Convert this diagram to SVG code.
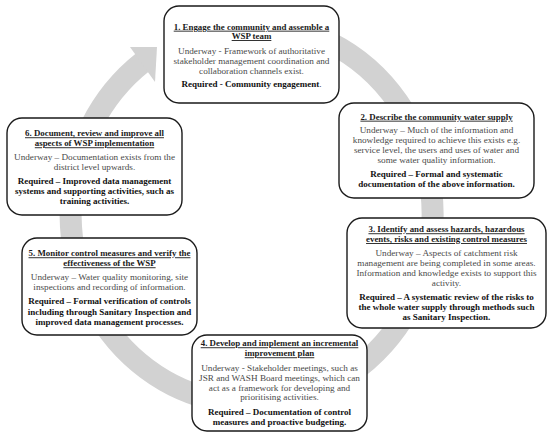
<svg xmlns="http://www.w3.org/2000/svg" width="550" height="436" viewBox="0 0 550 436">
<defs>
<style>
.box{fill:#fff;stroke:#1a1a1a;stroke-width:1.4}
text{font-family:"Liberation Serif","Times New Roman",serif;font-size:9.2px;text-anchor:middle}
.t{font-weight:bold;font-size:8.9px;fill:#1a1a1a;text-decoration:underline}
.u{fill:#4a4a4a}
.r{font-weight:bold;font-size:9px;fill:#111}
.ring{fill:none;stroke:#d2d2d2;stroke-width:22}
.head{fill:#d2d2d2}
</style>
</defs>
<rect width="550" height="436" fill="#fff"/>
<g id="connectors">
<path class="ring" d="M 252 24 A 181 190 0 1 1 143 62"/>
<polygon class="head" points="130,47 157,47 155,82"/>
</g>
<g id="node1">
<rect class="box" x="164" y="6" width="175" height="97" rx="15"/>
<text class="t" x="251.5" y="29.7">1. Engage the community and assemble a</text>
<text class="t" x="251.5" y="39">WSP team</text>
<text class="u" x="251.5" y="53.7">Underway - Framework of authoritative</text>
<text class="u" x="251.5" y="64">stakeholder management coordination and</text>
<text class="u" x="251.5" y="73.7">collaboration channels exist.</text>
<text class="r" x="251.5" y="87">Required - Community engagement<tspan font-weight="normal">.</tspan></text>
</g>
<g id="node2">
<rect class="box" x="339" y="103" width="195" height="95" rx="15"/>
<text class="t" x="436.5" y="119.7">2. Describe the community water supply</text>
<text class="u" x="436.5" y="133">Underway – Much of the information and</text>
<text class="u" x="436.5" y="143">knowledge required to achieve this exists e.g.</text>
<text class="u" x="436.5" y="153">service level, the users and uses of water and</text>
<text class="u" x="436.5" y="163.3">some water quality information.</text>
<text class="r" x="436.5" y="177">Required – Formal and systematic</text>
<text class="r" x="436.5" y="187">documentation of the above information.</text>
</g>
<g id="node3">
<rect class="box" x="347" y="218" width="199" height="110" rx="15"/>
<text class="t" x="446.5" y="232.3">3. Identify and assess hazards, hazardous</text>
<text class="t" x="446.5" y="242">events, risks and existing control measures</text>
<text class="u" x="446.5" y="256.3">Underway – Aspects of catchment risk</text>
<text class="u" x="446.5" y="266.3">management are being completed in some areas.</text>
<text class="u" x="446.5" y="276.3">Information and knowledge exists to support this</text>
<text class="u" x="446.5" y="286.3">activity.</text>
<text class="r" x="446.5" y="299.7">Required – A systematic review of the risks to</text>
<text class="r" x="446.5" y="309.7">the whole water supply through methods such</text>
<text class="r" x="446.5" y="319.7">as Sanitary Inspection.</text>
</g>
<g id="node5">
<rect class="box" x="22" y="238" width="175" height="97" rx="15"/>
<text class="t" x="109.5" y="256.3">5. Monitor control measures and verify the</text>
<text class="t" x="109.5" y="266.3">effectiveness of the WSP</text>
<text class="u" x="109.5" y="280.3">Underway – Water quality monitoring, site</text>
<text class="u" x="109.5" y="289.7">inspections and recording of information.</text>
<text class="r" x="109.5" y="304">Required – Formal verification of controls</text>
<text class="r" x="109.5" y="314.7">including through Sanitary Inspection and</text>
<text class="r" x="109.5" y="325">improved data management processes.</text>
</g>
<g id="node4">
<rect class="box" x="192" y="335" width="175" height="96" rx="15"/>
<text class="t" x="279.5" y="346.3">4. Develop and implement an incremental</text>
<text class="t" x="279.5" y="356.3">improvement plan</text>
<text class="u" x="279.5" y="371.3">Underway - Stakeholder meetings, such as</text>
<text class="u" x="279.5" y="381.3">JSR and WASH Board meetings, which can</text>
<text class="u" x="279.5" y="390.7">act as a framework for developing and</text>
<text class="u" x="279.5" y="400.3">prioritising activities.</text>
<text class="r" x="279.5" y="414.7">Required – Documentation of control</text>
<text class="r" x="279.5" y="424.7">measures and proactive budgeting.</text>
</g>
<g id="node6">
<rect class="box" x="7" y="118" width="175" height="97" rx="15"/>
<text class="t" x="94.5" y="136.3">6. Document, review and improve all</text>
<text class="t" x="94.5" y="146.3">aspects of WSP implementation</text>
<text class="u" x="94.5" y="159.7">Underway – Documentation exists from the</text>
<text class="u" x="94.5" y="169.7">district level upwards.</text>
<text class="r" x="94.5" y="184">Required – Improved data management</text>
<text class="r" x="94.5" y="194">systems and supporting activities, such as</text>
<text class="r" x="94.5" y="204">training activities.</text>
</g>
</svg>
